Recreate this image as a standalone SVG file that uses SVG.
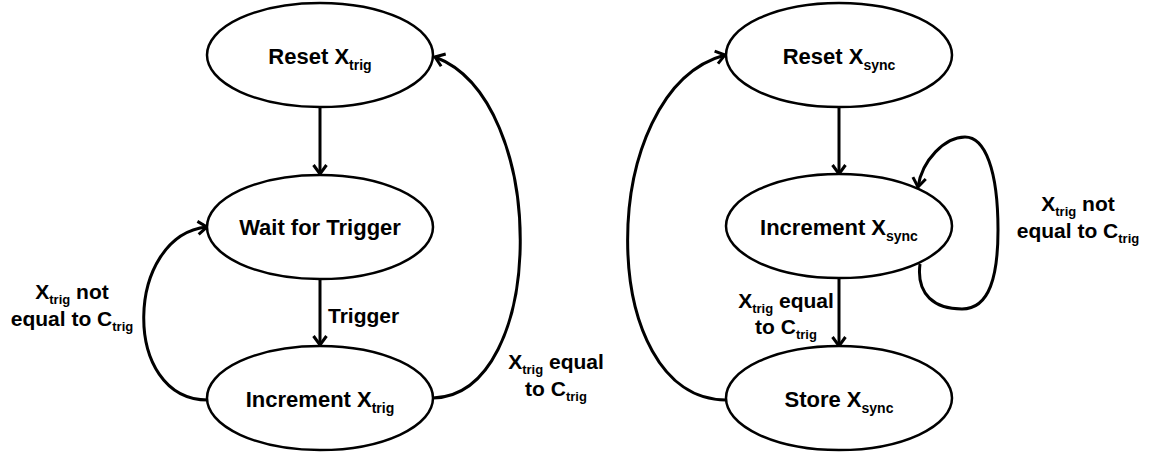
<svg xmlns="http://www.w3.org/2000/svg" width="1149" height="453" viewBox="0 0 1149 453">
<style>
.node{fill:#fff;stroke:#000;stroke-width:2.5}
.edge{fill:none;stroke:#000;stroke-width:3;marker-end:url(#arr)}
text{font-family:"Liberation Sans",Arial,sans-serif;font-weight:bold;font-size:22px;fill:#000}
.lbl{font-size:21px}
.c{text-anchor:middle}
.sub{font-size:14px}
.lsub{font-size:13px}
</style>
<defs>
<marker id="arr" markerUnits="userSpaceOnUse" markerWidth="16" markerHeight="16" viewBox="0 0 16 16" refX="13" refY="8" orient="auto">
<path d="M4,1.5 L13,8 L4,14.5" fill="none" stroke="#000" stroke-width="3"/>
</marker>
</defs>
<rect width="1149" height="453" fill="#fff"/>
<g id="connectors">
<path class="edge" d="M320,108 L320,174"/>
<path class="edge" d="M320,280 L320,345"/>
<path class="edge" d="M208,400 C120,400 125,235 207,227"/>
<path class="edge" d="M433,398 C548,395 550,100 435,57"/>
<path class="edge" d="M839,108 L839,174"/>
<path class="edge" d="M839,279 L839,346"/>
<path class="edge" d="M726,400 C595,400 595,90 725,55"/>
<path class="edge" d="M920,264 C916,295 935,309 962,309 C990,309 998,275 998,230 C998,170 985,137 965,137 C945,137 922,160 918,187"/>
</g>
<g id="n-reset-trig">
<ellipse class="node" cx="320" cy="55" rx="113" ry="52"/>
<text class="c" x="320" y="64">Reset X<tspan class="sub" dy="6">trig</tspan></text>
</g>
<g id="n-wait">
<ellipse class="node" cx="320" cy="227" rx="113" ry="52"/>
<text class="c" x="320" y="235">Wait for Trigger</text>
</g>
<g id="n-inc-trig">
<ellipse class="node" cx="320" cy="398" rx="113" ry="52"/>
<text class="c" x="320" y="407">Increment X<tspan class="sub" dy="6">trig</tspan></text>
</g>
<g id="n-reset-sync">
<ellipse class="node" cx="839" cy="55" rx="113" ry="52"/>
<text class="c" x="839" y="64">Reset X<tspan class="sub" dy="6">sync</tspan></text>
</g>
<g id="n-inc-sync">
<ellipse class="node" cx="839" cy="226" rx="113" ry="52"/>
<text class="c" x="839" y="235">Increment X<tspan class="sub" dy="6">sync</tspan></text>
</g>
<g id="n-store-sync">
<ellipse class="node" cx="839" cy="398" rx="113" ry="52"/>
<text class="c" x="839" y="407">Store X<tspan class="sub" dy="6">sync</tspan></text>
</g>
<g id="labels">
<text class="lbl" x="328" y="323">Trigger</text>
<text class="lbl c" x="72" y="299">X<tspan class="lsub" dy="5">trig</tspan><tspan dy="-5"> not</tspan></text>
<text class="lbl c" x="72" y="326">equal to C<tspan class="lsub" dy="5">trig</tspan></text>
<text class="lbl c" x="556" y="369">X<tspan class="lsub" dy="5">trig</tspan><tspan dy="-5"> equal</tspan></text>
<text class="lbl c" x="556" y="396">to C<tspan class="lsub" dy="5">trig</tspan></text>
<text class="lbl c" x="786" y="308">X<tspan class="lsub" dy="5">trig</tspan><tspan dy="-5"> equal</tspan></text>
<text class="lbl c" x="786" y="334">to C<tspan class="lsub" dy="5">trig</tspan></text>
<text class="lbl c" x="1078" y="211">X<tspan class="lsub" dy="5">trig</tspan><tspan dy="-5"> not</tspan></text>
<text class="lbl c" x="1078" y="238">equal to C<tspan class="lsub" dy="5">trig</tspan></text>
</g>
</svg>
